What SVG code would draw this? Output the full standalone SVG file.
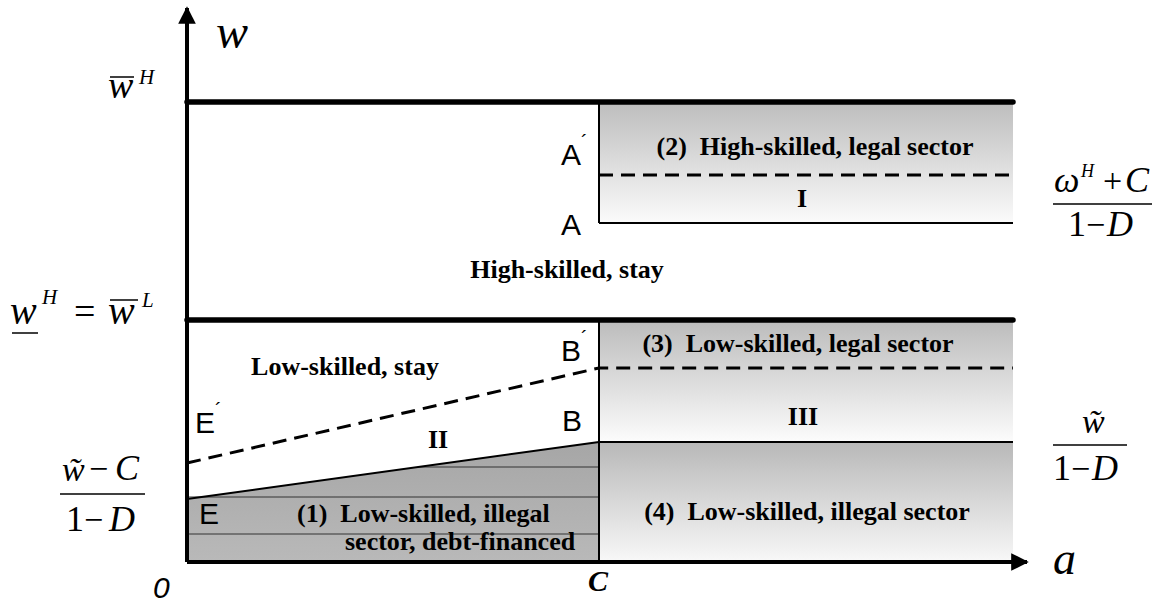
<svg xmlns="http://www.w3.org/2000/svg" width="1159" height="605" viewBox="0 0 1159 605">
<defs>
<linearGradient id="gTop" x1="0" y1="0" x2="0" y2="1"><stop offset="0" stop-color="#bdbdbd"/><stop offset="1" stop-color="#fbfbfb"/></linearGradient>
<linearGradient id="gMid" x1="0" y1="0" x2="0" y2="1"><stop offset="0" stop-color="#bcbcbc"/><stop offset="1" stop-color="#fcfcfc"/></linearGradient>
<linearGradient id="gLow" x1="0" y1="0" x2="0" y2="1"><stop offset="0" stop-color="#b8b8b8"/><stop offset="1" stop-color="#f8f8f8"/></linearGradient>
<linearGradient id="gDebt" x1="0" y1="0" x2="0" y2="1"><stop offset="0" stop-color="#a6a6a6"/><stop offset="1" stop-color="#b9b9b9"/></linearGradient>
<marker id="arr" viewBox="0 0 10 10" refX="9" refY="5" markerWidth="4.4" markerHeight="4.4" orient="auto" markerUnits="strokeWidth"><path d="M0,0 L10,5 L0,10 z" fill="#000"/></marker>
</defs>
<style>
.lab{font-family:"Liberation Serif","Times New Roman",serif;font-weight:bold;font-size:26px;fill:#000;white-space:pre}
.pt{font-family:"Liberation Sans",Arial,sans-serif;font-size:30px;fill:#000}
.pr{font-size:20px}
.m{font-family:"Liberation Serif","Times New Roman",serif;font-style:italic;fill:#000}
.r{font-family:"Liberation Serif","Times New Roman",serif;fill:#000}
.thick{stroke:#000;stroke-width:5.5;stroke-linecap:round;fill:none}
.thin{stroke:#000;stroke-width:2;fill:none}
.dash{stroke:#000;stroke-width:3;stroke-dasharray:14 8;fill:none}
.hair{stroke:#333;stroke-width:1;fill:none}
.bar{stroke:#000;stroke-width:1.5}
</style>
<rect width="1159" height="605" fill="#fff"/>

<g id="region-high-legal">
<rect x="599" y="102" width="414" height="121" fill="url(#gTop)"/>
<text class="lab" x="815" y="155" text-anchor="middle" xml:space="preserve">(2)  High-skilled, legal sector</text>
<text class="lab" x="802" y="207" text-anchor="middle">I</text>
</g>
<g id="region-low-legal">
<rect x="599" y="321" width="414" height="121" fill="url(#gMid)"/>
<text class="lab" x="798" y="352" text-anchor="middle" xml:space="preserve">(3)  Low-skilled, legal sector</text>
<text class="lab" x="803" y="425" text-anchor="middle">III</text>
</g>
<g id="region-low-illegal">
<rect x="599" y="442" width="414" height="120" fill="url(#gLow)"/>
<text class="lab" x="807" y="520" text-anchor="middle" xml:space="preserve" font-size="27">(4)  Low-skilled, illegal sector</text>
</g>
<g id="region-debt">
<polygon points="187,499 599,442 599,562 187,562" fill="url(#gDebt)"/>
<line class="hair" x1="418" y1="467" x2="599" y2="467"/>
<line class="hair" x1="187" y1="497" x2="599" y2="497"/>
<line class="hair" x1="187" y1="534" x2="599" y2="534"/>
<text class="lab" x="297" y="522" xml:space="preserve">(1)  Low-skilled, illegal</text>
<text class="lab" x="345" y="550">sector, debt-financed</text>
</g>
<g id="region-high-stay"><text class="lab" x="567" y="278" text-anchor="middle">High-skilled, stay</text></g>
<g id="region-low-stay"><text class="lab" x="345" y="375" text-anchor="middle">Low-skilled, stay</text></g>
<g id="region-II"><text class="lab" x="438" y="448" text-anchor="middle">II</text></g>

<g id="connectors">
<line class="thick" x1="187" y1="102" x2="1013" y2="102"/>
<line class="thick" x1="187" y1="320" x2="1013" y2="320"/>
<line class="thin" x1="599" y1="102" x2="599" y2="223"/>
<line class="thin" x1="599" y1="320" x2="599" y2="562"/>
<line class="thin" x1="599" y1="223" x2="1013" y2="223"/>
<line class="thin" x1="599" y1="442" x2="1013" y2="442"/>
<line class="thin" x1="187" y1="499" x2="599" y2="442"/>
<line class="dash" x1="599" y1="175" x2="1013" y2="175"/>
<polyline class="dash" points="187,463 599,368 1013,368"/>
<line stroke="#000" stroke-width="4" x1="187" y1="562" x2="187" y2="8" marker-end="url(#arr)"/>
<line stroke="#000" stroke-width="4" x1="187" y1="562" x2="1027" y2="562" marker-end="url(#arr)"/>
</g>

<g id="points">
<text class="pt" x="561" y="165">A<tspan class="pr" dy="-16">´</tspan></text>
<text class="pt" x="561" y="235">A</text>
<text class="pt" x="561" y="361">B<tspan class="pr" dy="-16">´</tspan></text>
<text class="pt" x="562" y="431">B</text>
<text class="pt" x="195" y="433">E<tspan class="pr" dy="-16">´</tspan></text>
<text class="pt" x="199" y="524">E</text>
</g>

<g id="axis-labels">
<text class="m" x="216" y="48" font-size="48">w</text>
<text class="m" x="1053" y="574" font-size="46">a</text>
<text class="pt" x="153" y="598" font-style="italic" font-size="28">0</text>
<text class="m" x="598" y="591" font-size="30" font-weight="bold" text-anchor="middle">C</text>
</g>

<g id="label-wbarH">
<text class="m" x="108" y="98" font-size="38">w</text>
<line class="bar" x1="110" y1="77" x2="134" y2="77"/>
<text class="m" x="139" y="84" font-size="21">H</text>
</g>

<g id="label-wH-eq">
<text class="m" x="10" y="324" font-size="40">w</text>
<line class="bar" x1="12" y1="333" x2="38" y2="333"/>
<text class="m" x="42" y="304" font-size="21">H</text>
<text class="r" x="74" y="324" font-size="38">=</text>
<text class="m" x="108" y="324" font-size="40">w</text>
<line class="bar" x1="110" y1="300" x2="138" y2="300"/>
<text class="m" x="142" y="307" font-size="21">L</text>
</g>

<g id="label-frac-left">
<text class="m" x="62" y="481" font-size="34">w̃</text>
<text class="r" x="89" y="480" font-size="34">−</text>
<text class="m" x="115" y="480" font-size="36">C</text>
<line class="bar" x1="60" y1="494" x2="145" y2="494"/>
<text class="r" x="66" y="531" font-size="36">1</text>
<text class="r" x="84" y="531" font-size="34">−</text>
<text class="m" x="109" y="531" font-size="36">D</text>
</g>

<g id="label-frac-right-top">
<text class="m" x="1054" y="192" font-size="36">ω</text>
<text class="m" x="1081" y="177" font-size="18">H</text>
<text class="r" x="1103" y="192" font-size="34">+</text>
<text class="m" x="1125" y="192" font-size="36">C</text>
<line class="bar" x1="1053" y1="204" x2="1152" y2="204"/>
<text class="r" x="1068" y="236" font-size="36">1</text>
<text class="r" x="1086" y="236" font-size="34">−</text>
<text class="m" x="1107" y="236" font-size="36">D</text>
</g>

<g id="label-frac-right-bottom">
<text class="m" x="1082" y="433" font-size="34">w̃</text>
<line class="bar" x1="1053" y1="445" x2="1127" y2="445"/>
<text class="r" x="1053" y="480" font-size="36">1</text>
<text class="r" x="1071" y="480" font-size="34">−</text>
<text class="m" x="1092" y="480" font-size="36">D</text>
</g>
</svg>
